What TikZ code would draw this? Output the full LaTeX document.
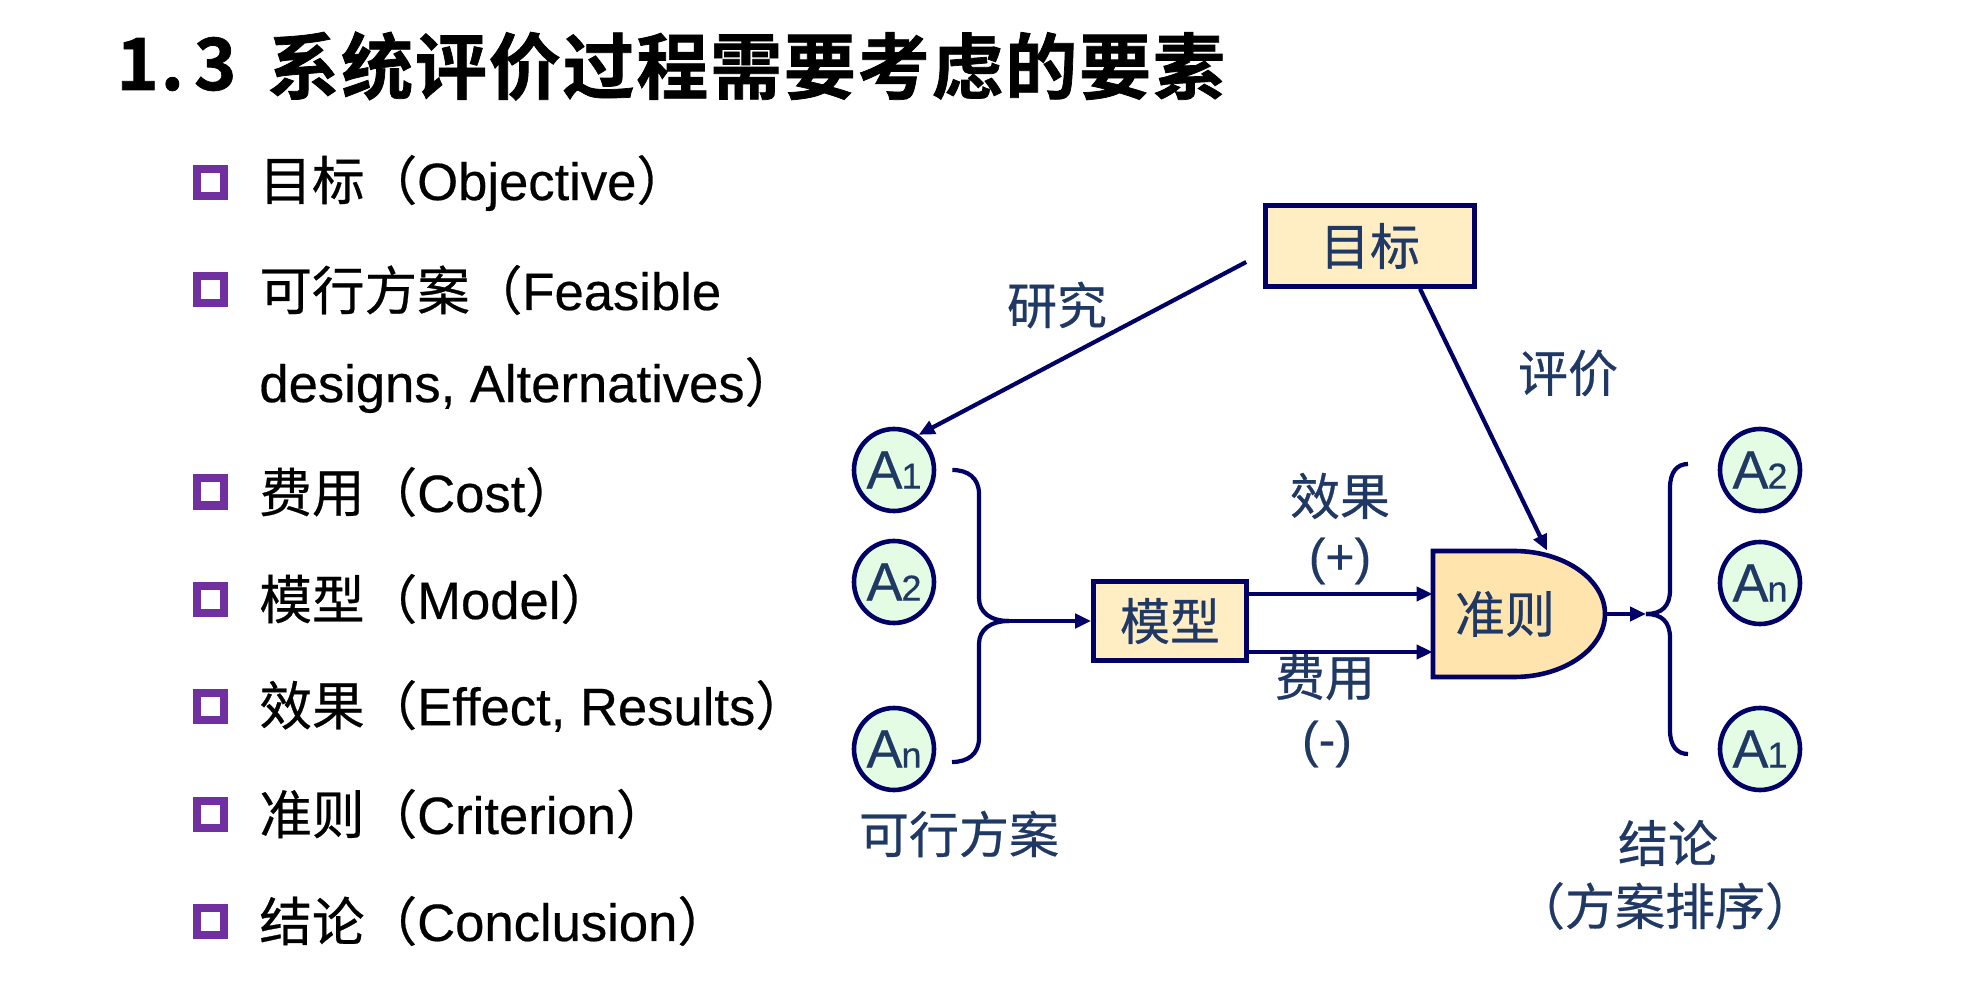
\documentclass[tikz,border=0pt]{standalone}
\usepackage{fontspec}
\setmainfont[FakeBold=0.4]{Liberation Sans}
\newfontfamily\cjk[FakeBold=0.5]{Noto Sans CJK SC}
\newfontfamily\cjktitle[LetterSpace=2.5,FakeBold=1]{Noto Sans CJK SC Bold}
\usetikzlibrary{arrows.meta,calc,shapes.geometric}

\definecolor{linenavy}{HTML}{000066}
\definecolor{textnavy}{HTML}{1F3864}
\definecolor{boxfill}{HTML}{FFEDC4}
\definecolor{rulefill}{HTML}{FFE4AE}
\definecolor{altfill}{HTML}{E4FCE4}
\definecolor{bulletpurple}{HTML}{7030A0}

% alternative label: A with a small index on the baseline
\newcommand\altname[1]{A\kern-0.5pt{\fontsize{18}{18}\selectfont #1}}

\begin{document}
\begin{tikzpicture}[x=0.5pt,y=-0.5pt,
  itemtext/.style={font=\fontsize{26.3}{30}\selectfont,anchor=west,inner sep=0pt,text=black},
  bulletbox/.style={draw=bulletpurple,line width=4pt,fill=white,minimum size=13.5pt,inner sep=0pt},
  lbl/.style={font=\fontsize{25}{30}\selectfont\cjk,text=textnavy,inner sep=0pt},
  latinlbl/.style={font=\fontsize{25}{30}\selectfont,text=textnavy,inner sep=0pt},
  boxnode/.style={draw=linenavy,line width=2.3pt,fill=boxfill,inner sep=0pt,
    font=\fontsize{25}{30}\selectfont\cjk,text=textnavy},
  alt/.style={ellipse,draw=linenavy,line width=2.3pt,fill=altfill,minimum width=40pt,
    minimum height=41pt,inner sep=0pt,font=\fontsize{27}{30}\selectfont,text=textnavy},
  conn/.style={draw=linenavy,line width=2.1pt},
  arrowconn/.style={conn,-{Triangle[length=8pt,width=7pt]}},
]
\useasboundingbox (0,0) rectangle (1978,1000);
\fill[white] (0,0) rectangle (1978,1000);

% heading
\node[anchor=west,inner sep=0pt,font=\fontsize{36}{40}\cjktitle] (secnum) at (116,64) {1.\hspace{5pt}3};
\node[anchor=west,inner sep=0pt,font=\fontsize{36}{40}\cjktitle] (title) at (267,66) {系统评价过程需要考虑的要素};

% bullet list
\node[bulletbox] (b1) at (210,183) {};
\node[itemtext] (t1) at (259,183) {{\cjk 目标（}Objective{\cjk ）}};
\node[bulletbox] (b2) at (210,290) {};
\node[itemtext] (t2) at (259,290) {{\cjk 可行方案（}Feasible};
\node[itemtext] (t2b) at (259,385) {designs, Alternatives{\cjk ）}};
\node[bulletbox] (b3) at (210,492) {};
\node[itemtext] (t3) at (259,492) {{\cjk 费用（}Cost{\cjk ）}};
\node[bulletbox] (b4) at (210,599) {};
\node[itemtext] (t4) at (259,599) {{\cjk 模型（}Model{\cjk ）}};
\node[bulletbox] (b5) at (210,706) {};
\node[itemtext] (t5) at (259,706) {{\cjk 效果（}Effect, Results{\cjk ）}};
\node[bulletbox] (b6) at (210,814) {};
\node[itemtext] (t6) at (259,814) {{\cjk 准则（}Criterion{\cjk ）}};
\node[bulletbox] (b7) at (210,921) {};
\node[itemtext] (t7) at (259,921) {{\cjk 结论（}Conclusion{\cjk ）}};

% boxes
\node[boxnode,minimum width=104.5pt,minimum height=40.5pt] (goal) at (1370,246) {目标};
\node[boxnode,minimum width=76.5pt,minimum height=39.5pt] (model) at (1170,621) {模型};

% criterion: flat left side, rounded right side
\draw[draw=linenavy,line width=2.3pt,fill=rulefill]
  (1433,551) -- (1514,551) .. controls (1565,551) and (1605,580) .. (1605,614)
  .. controls (1605,648) and (1565,677) .. (1514,677) -- (1433,677) -- cycle;
\node[inner sep=0pt,minimum width=86pt,minimum height=63pt] (rule) at (1519,614) {};
\node[lbl] (ruletext) at (1505,614) {准则};

% alternatives before and after ranking
\node[alt] (la1) at (894,470) {\altname{1}};
\node[alt] (la2) at (894,582) {\altname{2}};
\node[alt] (lan) at (894,749) {\altname{n}};
\node[alt] (ra2) at (1760,470) {\altname{2}};
\node[alt] (ran) at (1760,583) {\altname{n}};
\node[alt] (ra1) at (1760,749) {\altname{1}};

% goal connectors
\draw[arrowconn] ($(goal.west)+(-17,16)$) -- (la1.55);
\draw[arrowconn] ($(goal.south)+(50,0)$) -- ($(rule.north)+(28,0)$);

% left brace gathering the alternatives
\coordinate (ltop) at ($(la1.east)+(16,0)$);
\coordinate (lbot) at (952,762);
\coordinate (ljoint) at (1009,621);
\draw[conn] (ltop) .. controls (968,470) and (979,478) .. (979,494) -- (979,598)
  .. controls (979,612) and (990,621) .. (ljoint);
\draw[conn] (lbot) .. controls (968,762) and (979,754) .. (979,738) -- (979,644)
  .. controls (979,630) and (990,621) .. (ljoint);
\draw[arrowconn] (ljoint) -- (model.west);

% model outputs
\coordinate (effS) at ($(model.east)+(0,-27)$);
\coordinate (costS) at ($(model.east)+(0,31)$);
\draw[arrowconn] (effS) -- (effS -| rule.west);
\draw[arrowconn] (costS) -- (costS -| rule.west);

% right brace with the ranked alternatives
\coordinate (rjoint) at (1646,614);
\draw[arrowconn] (rule.east) -- (rjoint);
\draw[conn] (rjoint) .. controls (1662,614) and (1670,606) .. (1670,590) -- (1670,488)
  .. controls (1670,472) and (1677,464) .. (1688,464);
\draw[conn] (rjoint) .. controls (1662,614) and (1670,622) .. (1670,638) -- (1670,730)
  .. controls (1670,746) and (1677,754) .. (1688,754);

% labels
\node[lbl] (research) at (1057,305) {研究};
\node[lbl] (evaluate) at (1568,373) {评价};
\node[lbl] (effect) at (1340,496) {效果};
\node[latinlbl] (plus) at (1340,561) {(+)};
\node[lbl] (cost) at (1325,677) {费用};
\node[latinlbl] (minus) at (1327,744) {(-)};
\node[lbl] (feasible) at (959,834) {可行方案};
\node[lbl] (concl) at (1668,843) {结论};
\node[lbl] (ranking) at (1665,906) {（方案排序）};
\end{tikzpicture}
\end{document}
